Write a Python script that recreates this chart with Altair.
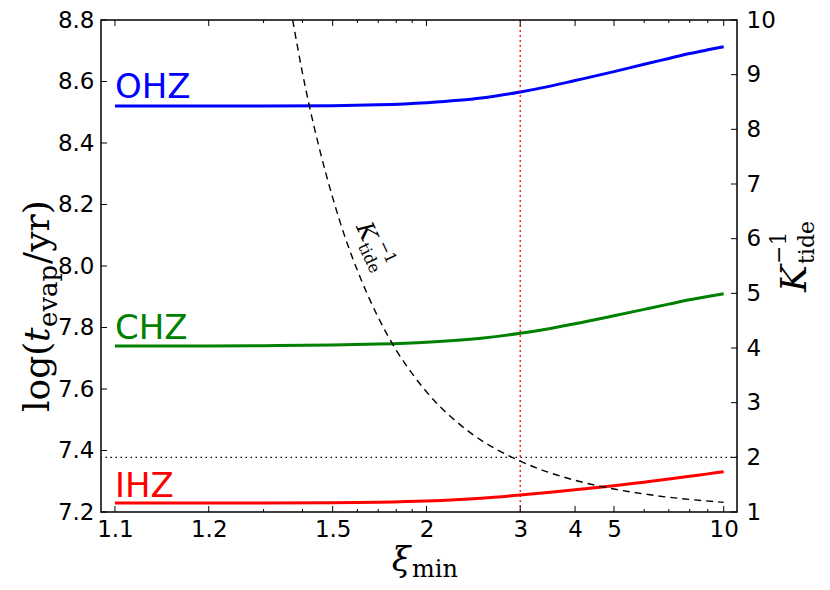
import altair as alt
import pandas as pd

# ---- data ----
xi = [1.1, 1.2, 1.3, 1.5, 1.7, 2.0, 2.5, 3.0, 3.5, 4.0, 5.0, 6.0, 7.0, 8.0, 9.0, 10.0]
ohz = [8.520, 8.520, 8.520, 8.521, 8.524, 8.531, 8.546, 8.566, 8.585, 8.603, 8.632, 8.656, 8.675, 8.691, 8.703, 8.713]
chz = [7.740, 7.740, 7.741, 7.743, 7.746, 7.752, 7.765, 7.781, 7.797, 7.812, 7.838, 7.859, 7.876, 7.890, 7.901, 7.910]
ihz = [7.229, 7.229, 7.229, 7.230, 7.232, 7.236, 7.245, 7.255, 7.264, 7.272, 7.285, 7.297, 7.307, 7.316, 7.324, 7.331]

xi_k = [1.372, 1.4, 1.42, 1.45, 1.5, 1.55, 1.6, 1.65, 1.7, 1.8, 1.9, 2.0, 2.1, 2.25, 2.5, 2.75, 3.0, 3.5, 4.0, 5.0, 6.0, 7.0, 8.0, 10.0]
k_inv = [10.0, 9.03, 8.45, 7.72, 6.75, 6.00, 5.42, 4.95, 4.56, 3.96, 3.53, 3.20, 2.94, 2.65, 2.31, 2.09, 1.93, 1.715, 1.58, 1.42, 1.33, 1.27, 1.23, 1.176]

zone_names = ["OHZ", "CHZ", "IHZ"]
zone_colors = ["#0000ff", "#008000", "#ff0000"]
zone_label_y = [8.546, 7.764, 7.249]

x_major = [1.1, 1.2, 1.5, 2, 3, 4, 5, 10]
x_minor = [1.3, 1.4, 1.6, 1.7, 1.8, 1.9, 6, 7, 8, 9]
t_ticks = [7.2, 7.4, 7.6, 7.8, 8.0, 8.2, 8.4, 8.6, 8.8]
k_ticks = [1, 2, 3, 4, 5, 6, 7, 8, 9, 10]
xi_vline = [3.0]
k_hline = [2.0]

W, H = 636, 492
XD = [0.0902, 9.93]   # domain of (xi - 1), log scale

# ---- tables ----
rows = []
for name, vals in zip(zone_names, [ohz, chz, ihz]):
    for a, b in zip(xi, vals):
        rows.append({"u": a - 1, "t": b, "zone": name})
df_z = pd.DataFrame(rows)
df_lab = pd.DataFrame({"u": [0.1] * 3, "t": zone_label_y, "zone": zone_names})
df_k = pd.DataFrame({"u": [a - 1 for a in xi_k], "k": k_inv})
df_xmaj = pd.DataFrame({"u": [a - 1 for a in x_major]})
df_xmin = pd.DataFrame({"u": [a - 1 for a in x_minor]})
df_t = pd.DataFrame({"t": t_ticks})
df_kt = pd.DataFrame({"k": k_ticks})
df_v = pd.DataFrame({"u": [a - 1 for a in xi_vline]})
df_h = pd.DataFrame({"k": k_hline})
one = pd.DataFrame({"a": [0]})

LF = "DejaVu Sans"
SF = "DejaVu Serif"

xs = alt.Scale(type="log", domain=XD, nice=False)
ys_l = alt.Scale(domain=[7.2, 8.8], nice=False, zero=False)
ys_r = alt.Scale(domain=[1, 10], nice=False, zero=False)

ax_x = alt.Axis(values=[a - 1 for a in x_major], labelExpr="format(datum.value + 1, '~g')",
                ticks=False, domain=False, grid=False, title=None, labelFont=LF,
                labelFontSize=23, labelColor="black", labelPadding=6, labelFlush=False,
                labelOverlap=False)
ax_l = alt.Axis(values=t_ticks, format=".1f", ticks=False, domain=False, grid=False, title=None,
                labelFont=LF, labelFontSize=23, labelColor="black", labelPadding=7)
ax_r = alt.Axis(orient="right", values=k_ticks, format="d", ticks=False, domain=False, grid=False,
                title=None, labelFont=LF, labelFontSize=23, labelColor="black", labelPadding=9)

X = alt.X("u:Q", scale=xs, axis=ax_x)
YL = alt.Y("t:Q", scale=ys_l, axis=ax_l)
YR = alt.Y("k:Q", scale=ys_r, axis=ax_r)
zcol = alt.Color("zone:N", scale=alt.Scale(domain=zone_names, range=zone_colors), legend=None)

lines = alt.Chart(df_z).mark_line(strokeWidth=3, clip=True, interpolate="monotone").encode(
    x=X, y=YL, color=zcol)
labels = alt.Chart(df_lab).mark_text(align="left", baseline="alphabetic", font=LF, fontSize=34).encode(
    x=X, y=YL, text="zone:N", color=zcol)
vline = alt.Chart(df_v).mark_rule(color="red", strokeDash=[2, 3], strokeWidth=1.3).encode(x=X)

tk = dict(color="black", strokeWidth=1)
bmaj = alt.Chart(df_xmaj).mark_rule(**tk).encode(x=X, y=alt.value(H), y2=alt.value(H - 6))
bmin = alt.Chart(df_xmin).mark_rule(**tk).encode(x=X, y=alt.value(H), y2=alt.value(H - 3))
tmaj = alt.Chart(df_xmaj).mark_rule(**tk).encode(x=X, y=alt.value(0), y2=alt.value(6))
tmin = alt.Chart(df_xmin).mark_rule(**tk).encode(x=X, y=alt.value(0), y2=alt.value(3))
lt = alt.Chart(df_t).mark_rule(**tk).encode(y=YL, x=alt.value(0), x2=alt.value(6))


def txt(s, x, y, size, angle=0, italic=False, align="center", baseline="middle", font=SF):
    kw = dict(text=s, font=font, fontSize=size, align=align, baseline=baseline, color="black")
    if angle:
        kw["angle"] = angle
    if italic:
        kw["fontStyle"] = "italic"
    return alt.Chart(one).mark_text(**kw).encode(x=alt.value(x), y=alt.value(y))


# left axis title (rotated, reading upward)
bl = -52
ttl_left = [
    txt("log(", bl, 392, 36, 270, align="left", baseline="alphabetic"),
    txt("t", bl, 322, 36, 270, italic=True, align="left", baseline="alphabetic"),
    txt("evap", bl + 8, 307, 26, 270, align="left", baseline="alphabetic"),
    txt("/yr)", bl, 244, 36, 270, align="left", baseline="alphabetic"),
]
# right axis title
br = 705
ttl_right = [
    txt("K", br, 272, 36, 270, italic=True, align="left", baseline="alphabetic"),
    txt("\u22121", br - 20, 244, 22, 270, align="left", baseline="alphabetic"),
    txt("tide", br + 8, 244, 22, 270, align="left", baseline="alphabetic"),
]
# x title
ttl_x = [
    txt("\u03be", 300, 551, 34, italic=True, baseline="alphabetic"),
    txt("min", 311, 557, 24, align="left", baseline="alphabetic"),
]
# curve label
ttl_k = [
    txt("K", 265, 212, 24, 65, italic=True),
    txt("\u22121", 286, 232, 16, 65),
    txt("tide", 268, 238, 16, 65),
]

left = alt.layer(lines, labels, vline, bmaj, bmin, tmaj, tmin, lt,
                 *ttl_left, *ttl_right, *ttl_x, *ttl_k)

kcurve = alt.Chart(df_k).mark_line(color="black", strokeDash=[7, 5], strokeWidth=1.4,
                                   interpolate="monotone", clip=True).encode(x=X, y=YR)
hline = alt.Chart(df_h).mark_rule(color="black", strokeDash=[1.5, 3.5], strokeWidth=1.3).encode(y=YR)
rt = alt.Chart(df_kt).mark_rule(**tk).encode(y=YR, x=alt.value(W), x2=alt.value(W - 6))
right = alt.layer(hline, kcurve, rt)

chart = alt.layer(left, right).resolve_scale(y="independent").properties(
    width=W, height=H,
    autosize=alt.AutoSizeParams(type="none"),
    padding={"left": 93, "top": 12, "right": 85, "bottom": 70},
    background="white",
).configure_view(stroke="black", strokeWidth=1.5)

chart.save("out.html", embed_options={"renderer": "svg", "actions": False})
